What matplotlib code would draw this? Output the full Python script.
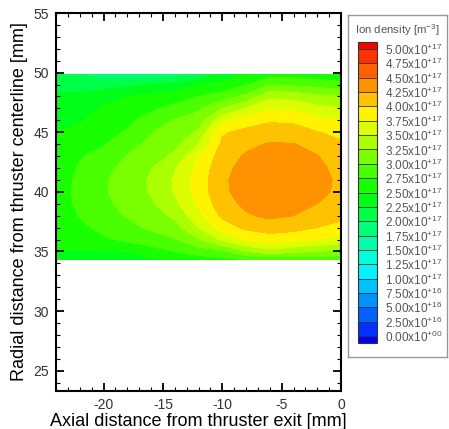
import numpy as np
import matplotlib
matplotlib.use("Agg")
import matplotlib.pyplot as plt
from matplotlib.colors import ListedColormap, BoundaryNorm, hsv_to_rgb
from matplotlib.ticker import MultipleLocator

plt.rcParams['font.family'] = ['Liberation Sans', 'DejaVu Sans']
plt.rcParams['mathtext.fontset'] = 'custom'
plt.rcParams['mathtext.rm'] = 'Liberation Sans'
plt.rcParams['mathtext.it'] = 'Liberation Sans:italic'
plt.rcParams['axes.unicode_minus'] = False

# grid (axial mm, radial mm), density in 1e17 m^-3
axial = [-24, -22, -20, -18, -16, -14, -12, -10, -8, -6, -4, -2, 0]
radial = [34.35, 35, 36, 37, 38, 39, 40, 41, 42, 43, 44, 45, 46, 47, 48, 49, 49.85]

# one list per axial column, bottom -> top
col_m24 = [2.40, 2.49, 2.55, 2.60, 2.63, 2.65, 2.66, 2.65, 2.63, 2.60, 2.55, 2.50, 2.44, 2.37, 2.28, 2.19, 2.12]
col_m22 = [2.40, 2.48, 2.60, 2.69, 2.76, 2.79, 2.80, 2.79, 2.77, 2.73, 2.66, 2.56, 2.48, 2.40, 2.30, 2.16, 2.00]
col_m20 = [2.40, 2.48, 2.71, 2.82, 2.89, 2.94, 2.97, 2.97, 2.93, 2.84, 2.73, 2.67, 2.60, 2.53, 2.40, 2.13, 1.90]
col_m18 = [2.42, 2.50, 2.80, 2.91, 3.02, 3.08, 3.12, 3.12, 3.07, 3.01, 2.90, 2.77, 2.70, 2.62, 2.50, 2.20, 1.85]
col_m16 = [2.47, 2.66, 2.87, 3.05, 3.13, 3.22, 3.27, 3.28, 3.24, 3.13, 3.07, 2.99, 2.84, 2.70, 2.57, 2.25, 1.85]
col_m14 = [2.57, 2.75, 2.98, 3.15, 3.30, 3.44, 3.52, 3.53, 3.48, 3.30, 3.18, 3.10, 3.02, 2.83, 2.62, 2.30, 1.90]
col_m12 = [2.65, 2.86, 3.23, 3.50, 3.67, 3.79, 3.85, 3.86, 3.82, 3.75, 3.50, 3.29, 3.12, 2.96, 2.75, 2.50, 2.05]
col_m10 = [2.70, 2.95, 3.54, 3.86, 4.05, 4.15, 4.20, 4.21, 4.18, 4.12, 4.05, 3.97, 3.67, 3.25, 2.88, 2.57, 2.30]
col_m8 = [2.78, 3.25, 3.78, 4.05, 4.22, 4.30, 4.35, 4.36, 4.33, 4.28, 4.19, 4.07, 3.87, 3.50, 3.07, 2.72, 2.50]
col_m6 = [2.80, 3.42, 3.88, 4.12, 4.30, 4.38, 4.44, 4.45, 4.43, 4.37, 4.27, 4.13, 3.97, 3.72, 3.44, 2.98, 2.65]
col_m4 = [2.85, 3.30, 3.83, 4.08, 4.25, 4.36, 4.42, 4.43, 4.40, 4.34, 4.26, 4.12, 3.95, 3.70, 3.40, 2.95, 2.65]
col_m2 = [2.88, 3.25, 3.75, 4.00, 4.12, 4.25, 4.31, 4.32, 4.30, 4.26, 4.15, 4.01, 3.82, 3.57, 3.31, 2.90, 2.60]
col_0 = [2.85, 3.18, 3.67, 3.91, 4.07, 4.15, 4.20, 4.21, 4.18, 4.12, 4.04, 3.93, 3.75, 3.50, 3.25, 2.84, 2.55]

columns = [col_m24, col_m22, col_m20, col_m18, col_m16, col_m14, col_m12,
           col_m10, col_m8, col_m6, col_m4, col_m2, col_0]
density = np.array(columns).T * 1e17

levels = np.linspace(0, 5e17, 21)

# tecplot style small rainbow, blue -> red (22 bands incl. under/over)
hues = np.linspace(240, 0, 22) / 360.0
band_colors = [hsv_to_rgb((h, 1.0, 1.0)) for h in hues]
cmap = ListedColormap(band_colors[1:-1])
cmap.set_under(band_colors[0])
cmap.set_over(band_colors[-1])
norm = BoundaryNorm(levels, cmap.N)

W, H = 449, 429
fig = plt.figure(figsize=(W / 100, H / 100), dpi=100)
ax = fig.add_axes([56 / W, 1 - 391 / H, (341 - 56) / W, (391 - 13) / H])

X, Y = np.meshgrid(axial, radial)
cs = ax.contourf(X, Y, density, levels=levels, cmap=cmap, norm=norm,
                 extend='both', antialiased=False)

ax.set_xlim(-24, 0)
ax.set_ylim(23.3, 55)
ax.xaxis.set_major_locator(MultipleLocator(5))
ax.xaxis.set_minor_locator(MultipleLocator(1))
ax.yaxis.set_major_locator(MultipleLocator(5))
ax.yaxis.set_minor_locator(MultipleLocator(1))
ax.tick_params(which='both', direction='in', top=True, right=True,
               labelsize=10, labelcolor='#333333', pad=5)
ax.tick_params(which='major', length=6, width=1.3)
ax.tick_params(which='minor', length=3, width=0.8)
for s in ax.spines.values():
    s.set_linewidth(1.5)

ax.set_xlabel("Axial distance from thruster exit [mm]", fontsize=13, labelpad=1)
ax.set_ylabel("Radial distance from thruster centerline [mm]", fontsize=13, labelpad=4)

# legend frame
lax = fig.add_axes([348 / W, 1 - 357 / H, 99 / W, 342 / H])
lax.set_xticks([])
lax.set_yticks([])
for s in lax.spines.values():
    s.set_color('#999999')
    s.set_linewidth(1)
lax.text(0.5, 1 - 15 / 342, "Ion density [m$^{-3}$]", transform=lax.transAxes,
         ha='center', va='center', fontsize=8.2, color='#555555')

cax = fig.add_axes([358 / W, 1 - 343.3 / H, 19 / W, (343.3 - 41.7) / H])
cbar = fig.colorbar(cs, cax=cax, extend='both', extendrect=True,
                    extendfrac=0.025, drawedges=True)
cbar.outline.set_edgecolor('#333333')
cbar.outline.set_linewidth(0.8)
cbar.dividers.set_color('#333333')
cbar.dividers.set_linewidth(0.6)


def sci_label(v):
    if v == 0:
        return "0.00x10$^{+00}$"
    e = int(np.floor(np.log10(v) + 1e-9))
    return "%.2fx10$^{+%02d}$" % (v / 10 ** e, e)


cbar.set_ticks(levels)
cbar.set_ticklabels([sci_label(v) for v in levels])
cax.tick_params(length=0, pad=6, labelsize=8.5, labelcolor='#555555')

fig.savefig("out.png", dpi=100)
